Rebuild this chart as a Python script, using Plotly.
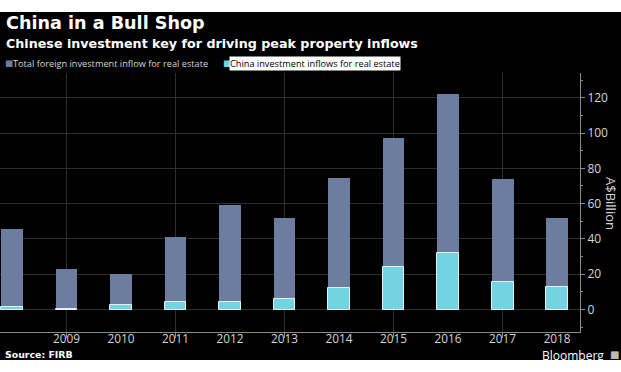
import plotly.graph_objects as go

# ---- data ----
years = [2008, 2009, 2010, 2011, 2012, 2013, 2014, 2015, 2016, 2017, 2018]
total_inflow = [45.4, 23.1, 19.9, 41.3, 59.0, 51.7, 74.7, 97.0, 122.1, 73.8, 51.7]
china_inflow = [1.2, 0.4, 2.4, 4.1, 4.1, 5.8, 12.4, 24.3, 31.8, 15.6, 12.7]
year_ticks = [2009, 2010, 2011, 2012, 2013, 2014, 2015, 2016, 2017, 2018]
year_labels = [str(y) for y in year_ticks]
grid_years = [2009, 2011, 2013, 2015, 2017]
y_ticks = [0, 20, 40, 60, 80, 100, 120]
y_labels = [str(v) for v in y_ticks]

series_names = ["Total foreign investment inflow for real estate",
                "China investment inflows for real estate"]

TOTAL_COLOR = "#6c7d9f"
CHINA_COLOR = "#74d3e1"
GRID = "#2e2e2e"
AXIS = "#8a8a8a"
TXT = "#d6d6d6"

W, H = 621, 372
ML, MR, MT, MB = 0, 41, 73, 40
PW, PH = W - ML - MR, H - MT - MB


def px(x):
    return (x - ML) / PW


def py(y):
    return (H - MB - y) / PH


x_range = [2007.78, 2018.42]
y_range = [-12.75, 134.0]

fig = go.Figure()
fig.add_trace(go.Bar(x=years, y=total_inflow, name=series_names[0],
                     marker=dict(color=TOTAL_COLOR, line=dict(width=0)),
                     width=0.4, showlegend=False))
fig.add_trace(go.Bar(x=years, y=china_inflow, name=series_names[1],
                     marker=dict(color=CHINA_COLOR, line=dict(width=1, color="#dff3f6")),
                     width=0.4, showlegend=False))

fig.update_layout(
    width=W, height=H,
    margin=dict(l=ML, r=MR, t=MT, b=MB, pad=0),
    paper_bgcolor="white", plot_bgcolor="black",
    barmode="overlay",
    bargap=0,
    font=dict(family="Open Sans", color=TXT),
    xaxis=dict(range=x_range, tickvals=year_ticks, ticktext=year_labels,
               showgrid=False, zeroline=False, showline=True, linecolor=AXIS,
               linewidth=1, ticks="", ticklabelstandoff=-4,
               tickfont=dict(size=11.8, color=TXT, family="Open Sans")),
    xaxis2=dict(range=x_range, overlaying="x", anchor="y", side="bottom",
                tickvals=grid_years, showticklabels=False, showgrid=True,
                gridcolor=GRID, gridwidth=1, zeroline=False, showline=False,
                ticks="outside", ticklen=5, tickcolor=AXIS),
    yaxis=dict(range=y_range, side="right", tickvals=y_ticks, ticktext=y_labels,
               showgrid=True, gridcolor=GRID, gridwidth=1, zeroline=False,
               showline=True, linecolor=AXIS, linewidth=1,
               ticks="outside", ticklen=4, tickcolor=AXIS,
               tickfont=dict(size=12, color=TXT, family="Open Sans"),
               minor=dict(dtick=10, tick0=0, ticks="outside", ticklen=2,
                          tickcolor=AXIS, showgrid=False)),
    showlegend=False,
)

# black background panel
fig.add_shape(type="rect", xref="paper", yref="paper",
              x0=px(0), x1=px(W), y0=py(360), y1=py(12),
              fillcolor="black", line=dict(width=0), layer="below")

# invisible trace on xaxis2 so the overlay axis (odd-year grid) renders
fig.add_trace(go.Scatter(x=[x_range[0]], y=[0], xaxis="x2", mode="markers",
                         marker=dict(opacity=0), hoverinfo="skip",
                         showlegend=False))

ann = []
ann.append(dict(text="<b>China in a Bull Shop</b>", x=px(4), y=py(23),
                xanchor="left", yanchor="middle",
                font=dict(family="DejaVu Sans", size=17.6, color="white")))
ann.append(dict(text="<b>Chinese investment key for driving peak property inflows</b>",
                x=px(4), y=py(43), xanchor="left", yanchor="middle",
                font=dict(family="DejaVu Sans", size=12.7, color="white")))
# legend
ann.append(dict(text="■", x=px(3), y=py(63.5), xanchor="left", yanchor="middle",
                font=dict(family="DejaVu Sans", size=8.5, color=TOTAL_COLOR)))
ann.append(dict(text=series_names[0], x=px(11), y=py(63.5), xanchor="left",
                yanchor="middle",
                font=dict(family="Open Sans", size=9.2, color=TXT)))
ann.append(dict(text="■", x=px(221), y=py(63.5), xanchor="left", yanchor="middle",
                font=dict(family="DejaVu Sans", size=8.5, color=CHINA_COLOR)))
ann.append(dict(text=series_names[1], x=px(229), y=py(63.5), xanchor="left",
                yanchor="middle", bgcolor="white", borderpad=0,
                font=dict(family="Open Sans", size=9.2, color="black")))
# axis title
ann.append(dict(text="A$Billion", x=px(611), y=py(203), xanchor="center",
                yanchor="middle", textangle=90,
                font=dict(family="Open Sans", size=13, color=TXT)))
# footer
ann.append(dict(text="<b>Source: FIRB</b>", x=px(3), y=py(354), xanchor="left",
                yanchor="middle",
                font=dict(family="DejaVu Sans", size=9.4, color="white")))
ann.append(dict(text="Bloomberg", x=px(606), y=py(355), xanchor="right",
                yanchor="middle",
                font=dict(family="Open Sans", size=12, color="white")))
ann.append(dict(text="■", x=px(614), y=py(354), xanchor="center",
                yanchor="middle",
                font=dict(family="DejaVu Sans", size=10, color="#bbbbbb")))
for a in ann:
    a.update(xref="paper", yref="paper", showarrow=False)
fig.update_layout(annotations=ann)

fig.write_html("out.html", config={"displayModeBar": False},
               post_script="document.body.style.margin='0';")
